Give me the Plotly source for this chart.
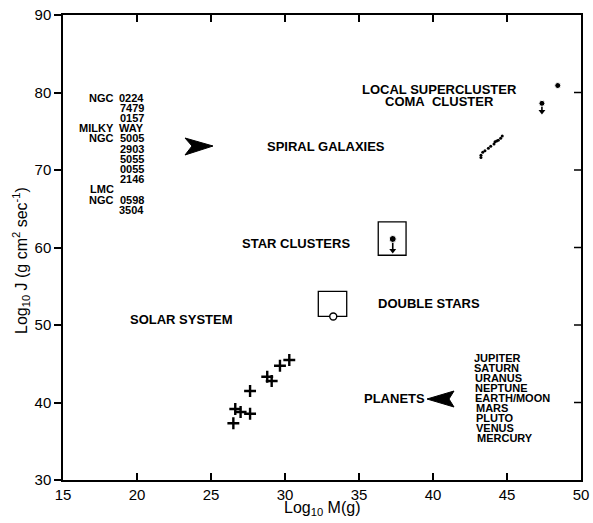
import plotly.graph_objects as go

# ---------------- data ----------------
planet_names = ["JUPITER", "SATURN", "URANUS", "NEPTUNE", "EARTH/MOON",
                "MARS", "PLUTO", "VENUS", "MERCURY"]
planet_logM = [30.29, 29.66, 28.80, 29.10, 27.64, 26.64, 27.00, 27.64, 26.51]
planet_logJ = [45.48, 44.75, 43.33, 42.77, 41.48, 39.16, 38.77, 38.55, 37.32]

galaxy_prefix = ["NGC", "", "", "MILKY", "NGC", "", "", "", "", "LMC", "NGC", ""]
galaxy_number = ["0224", "7479", "0157", "WAY", "5005", "2903", "5055", "0055",
                 "2146", "", "0598", "3504"]
galaxy_logM = [44.68, 44.57, 44.41, 44.30, 44.19, 44.12, 43.90, 43.74, 43.51,
               43.36, 43.24, 43.24]
galaxy_logJ = [74.40, 74.10, 73.85, 73.75, 73.65, 73.35, 73.05, 72.80, 72.50,
               72.30, 71.90, 71.60]

coma_logM, coma_logJ, coma_limit = [47.36], [78.6], [77.2]
supercluster_logM, supercluster_logJ = [48.43], [80.9]
starcluster_logM, starcluster_logJ, starcluster_limit = [37.28], [61.1], [59.25]
starcluster_box_M, starcluster_box_J = [36.30, 38.18], [59.0, 63.3]
doublestar_logM, doublestar_logJ = [33.26], [51.1]
doublestar_box_M, doublestar_box_J = [32.25, 34.17], [51.1, 54.35]

x_ticks = [15, 20, 25, 30, 35, 40, 45, 50]
y_ticks = [30, 40, 50, 60, 70, 80, 90]

# ---------------- geometry (page pixels; body margin removed by post_script) --------
OFF = 0
PAGE_W, PAGE_H = 593, 523
PL, PR, PT, PB = 63, 581, 15, 480        # plot area in page pixels
W, H = PAGE_W - OFF, PAGE_H - OFF
ML, MR, MT, MB = PL - OFF, W - (PR - OFF), PT - OFF, H - (PB - OFF)
X0, X1, Y0, Y1 = 15, 50, 30, 90
sx = (PR - PL) / (X1 - X0)
sy = (PB - PT) / (Y1 - Y0)


def dx(px):
    return X0 + (px - PL) / sx


def dy(py):
    return Y0 + (PB - py) / sy


def paper_x(px):
    return (px - PL) / (PR - PL)


def paper_y(py):
    return (PB - py) / (PB - PT)


FONT = "Liberation Sans, Arial, Helvetica, sans-serif"
fig = go.Figure()

# range boxes
for bm, bj in [(starcluster_box_M, starcluster_box_J),
               (doublestar_box_M, doublestar_box_J)]:
    fig.add_shape(type="rect", xref="x", yref="y", x0=bm[0], x1=bm[1],
                  y0=bj[0], y1=bj[1], line=dict(color="black", width=1.3),
                  layer="below")

# right-hand inside ticks
for t in y_ticks[1:-1]:
    fig.add_shape(type="line", xref="paper", yref="y", x0=1, x1=1 - 7 / (PR - PL),
                  y0=t, y1=t, line=dict(color="black", width=1.5))

# upper-limit stems and arrowheads
lim_M = coma_logM + starcluster_logM
lim_top = coma_logJ + starcluster_logJ
lim_bot = coma_limit + starcluster_limit
for m, j, lim in zip(lim_M, lim_top, lim_bot):
    fig.add_trace(go.Scatter(x=[m, m], y=[j, lim + 0.5], mode="lines",
                             line=dict(color="black", width=1.6),
                             hoverinfo="skip", showlegend=False))
fig.add_trace(go.Scatter(x=lim_M, y=[b + 0.35 for b in lim_bot], mode="markers",
                         marker=dict(symbol="triangle-down", size=6, color="black",
                                     opacity=1),
                         hoverinfo="skip", showlegend=False))

# planets
fig.add_trace(go.Scatter(x=planet_logM, y=planet_logJ, mode="markers",
                         marker=dict(symbol="cross-thin", size=8.5, color="black",
                                     opacity=1, line=dict(width=2.4, color="black")),
                         hoverinfo="skip", showlegend=False))
# galaxies
fig.add_trace(go.Scatter(x=galaxy_logM, y=galaxy_logJ, mode="markers",
                         marker=dict(symbol="circle", size=3, color="black", opacity=1),
                         hoverinfo="skip", showlegend=False))
# clusters
fig.add_trace(go.Scatter(x=coma_logM + supercluster_logM + starcluster_logM,
                         y=coma_logJ + supercluster_logJ + starcluster_logJ,
                         mode="markers",
                         marker=dict(symbol="circle", size=[6, 6, 7], color="black",
                                     opacity=1),
                         hoverinfo="skip", showlegend=False))
# double stars
fig.add_trace(go.Scatter(x=doublestar_logM, y=doublestar_logJ, mode="markers",
                         marker=dict(symbol="circle", size=7, color="white", opacity=1,
                                     line=dict(width=1.4, color="black")),
                         hoverinfo="skip", showlegend=False))


# big arrowheads
def arrow_path(tip, back_top, notch, back_bot):
    pts = [tip, back_top, notch, back_bot]
    return "M " + " L ".join(f"{dx(p[0]):.3f},{dy(p[1]):.3f}" for p in pts) + " Z"


fig.add_shape(type="path", xref="x", yref="y",
              path=arrow_path((213, 146), (185, 138), (192, 146), (185, 155)),
              fillcolor="black", line=dict(color="black", width=1))
fig.add_shape(type="path", xref="x", yref="y",
              path=arrow_path((427, 399), (454, 391), (449, 399), (454, 407)),
              fillcolor="black", line=dict(color="black", width=1))

# region labels
big = dict(family=FONT, size=13, color="black")
labels = [("SPIRAL GALAXIES", 265, 146),
          ("LOCAL SUPERCLUSTER", 360, 89),
          ("COMA  CLUSTER", 383, 101),
          ("STAR CLUSTERS", 240, 243),
          ("SOLAR SYSTEM", 128, 319),
          ("DOUBLE STARS", 376, 303),
          ("PLANETS", 362, 398)]
for txt, px, py in labels:
    fig.add_annotation(x=dx(px), y=dy(py), xref="x", yref="y",
                       text="<b>" + txt.replace("  ", "&nbsp; ") + "</b>",
                       showarrow=False, xanchor="left", yanchor="middle", font=big)

small = dict(family=FONT, size=11, color="black")
# galaxy list
for i, (pre, num) in enumerate(zip(galaxy_prefix, galaxy_number)):
    py = 97.5 + i * 10.2
    if pre:
        fig.add_annotation(x=dx(116), y=dy(py), xref="x", yref="y",
                           text="<b>" + pre + "</b>", showarrow=False,
                           xanchor="right", yanchor="middle", font=small)
    if num:
        fig.add_annotation(x=dx(146), y=dy(py), xref="x", yref="y",
                           text="<b>" + num + "</b>", showarrow=False,
                           xanchor="right", yanchor="middle", font=small)

# planet list
for i, name in enumerate(planet_names):
    py = 358 + i * 10.05
    fig.add_annotation(x=dx(472 + i * 0.35), y=dy(py), xref="x", yref="y",
                       text="<b>" + name + "</b>", showarrow=False,
                       xanchor="left", yanchor="middle", font=small)

# axis titles
fig.add_annotation(x=paper_x(322), y=paper_y(508.5), xref="paper", yref="paper",
                   text="Log<sub>10</sub> M(g)", showarrow=False,
                   xanchor="center", yanchor="middle",
                   font=dict(family=FONT, size=16, color="black"))
fig.add_annotation(x=paper_x(21), y=paper_y(261), xref="paper", yref="paper",
                   text="Log<sub>10</sub> J (g cm<sup>2</sup> sec<sup>-1</sup>)",
                   textangle=-90, showarrow=False, xanchor="center",
                   yanchor="middle",
                   font=dict(family=FONT, size=16, color="black"))

axis_common = dict(showgrid=False, zeroline=False, linecolor="black",
                   linewidth=1.5, tickcolor="black", tickwidth=1.5, ticklen=7,
                   automargin=False, ticklabeloverflow="allow",
                   tickfont=dict(family=FONT, size=15, color="black"))

fig.update_layout(
    width=W, height=H,
    margin=dict(l=ML, r=MR, t=MT, b=MB, pad=0, autoexpand=False),
    paper_bgcolor="white", plot_bgcolor="white",
    showlegend=False,
    xaxis=dict(range=[X0, X1], tickvals=x_ticks, ticktext=[str(t) for t in x_ticks],
               ticks="inside", showline=True, mirror="ticks", **axis_common),
    yaxis=dict(range=[Y0, Y1], tickvals=y_ticks, ticktext=[str(t) for t in y_ticks],
               ticks="outside", showline=True, mirror=True, **axis_common),
)

fig.write_html("out.html", config={"displayModeBar": False},
               post_script="document.body.style.margin='0';")
